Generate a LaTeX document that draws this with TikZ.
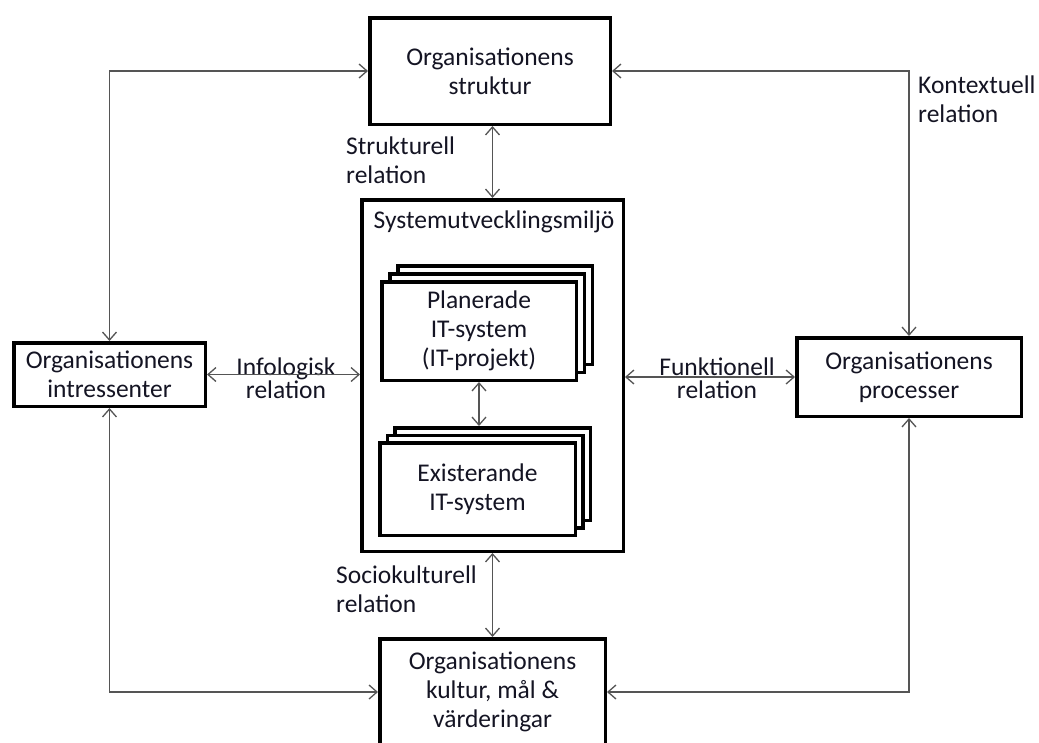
\documentclass[tikz,border=0pt]{standalone}
\usepackage{fontspec}
\setmainfont{Carlito}
\usetikzlibrary{arrows.meta}
\definecolor{txt}{RGB}{20,20,35}
\definecolor{linegray}{RGB}{85,85,85}

\begin{document}
\begin{tikzpicture}[x=1pt,y=-1pt,
  box/.style={draw=black, line width=3.5pt, fill=white, align=center, inner sep=0pt,
    font=\fontsize{25.5}{29}\selectfont, text=txt},
  stackbox/.style={box},
  lbl/.style={align=left, inner sep=0pt, font=\fontsize{25.5}{29}\selectfont, text=txt},
  tightlbl/.style={align=center, inner sep=0pt, font=\fontsize{25.5}{23}\selectfont, text=txt},
  conn/.style={draw=linegray, line width=1.3pt,
    {Straight Barb[length=8pt,width=14pt]}-{Straight Barb[length=8pt,width=14pt]}}
]
\useasboundingbox (0,0) rectangle (1039,742);
\clip (0,0) rectangle (1039,742);

% outer organisation boxes
\node[box, minimum width=240.5pt, minimum height=106.5pt] (top) at (490,71)
  {Organisationens\\struktur};
\node[box, minimum width=191.5pt, minimum height=63.5pt] (left) at (109.5,374.5)
  {Organisationens\\intressenter};
\node[box, minimum width=224.5pt, minimum height=78.5pt] (right) at (909,377)
  {Organisationens\\processer};
\node[box, minimum width=225.5pt, minimum height=106.5pt] (bottom) at (492.5,692)
  {Organisationens\\kultur, mål \&\\värderingar};

% development environment container
\node[box, minimum width=261.5pt, minimum height=351.5pt] (env) at (492.5,375.5) {};
\node[lbl, anchor=base] (envtitle) at (494,228) {Systemutvecklingsmiljö};

% stacked IT-system boxes
\node[stackbox, minimum width=194.5pt, minimum height=98.5pt] (planC) at (495,315) {};
\node[stackbox, minimum width=194.5pt, minimum height=98.5pt] (planB) at (487,323) {};
\node[stackbox, minimum width=194.5pt, minimum height=98.5pt] (plan) at (479,331)
  {Planerade\\IT-system\\(IT-projekt)};
\node[stackbox, minimum width=195.5pt, minimum height=92.5pt] (exC) at (492.5,474) {};
\node[stackbox, minimum width=195.5pt, minimum height=92.5pt] (exB) at (485,481.5) {};
\node[stackbox, minimum width=195.5pt, minimum height=92.5pt] (ex) at (477.5,489)
  {Existerande\\IT-system};

% relation labels
\node[lbl, anchor=west] (lstruk) at (346,160) {Strukturell\\relation};
\node[lbl, anchor=west] (lkont) at (918,99) {Kontextuell\\relation};
\node[lbl, anchor=west] (lsocio) at (336,589) {Sociokulturell\\relation};
\node[tightlbl] (linfo) at (286,378) {Infologisk\\relation};
\node[tightlbl] (lfunk) at (717,378) {Funktionell\\relation};

% connectors
\draw[conn] (left.north) |- (top.west);
\draw[conn] (right.north) |- (top.east);
\draw[conn] (left.south) |- (bottom.west);
\draw[conn] (right.south) |- (bottom.east);
\draw[conn] (env.north) -- (env.north |- top.south);
\draw[conn] (env.south) -- (env.south |- bottom.north);
\draw[conn] (left.east) -- (left.east -| env.west);
\draw[conn] (env.east |- right.west) -- (right.west);
\draw[conn] (plan.south) -- (plan.south |- exC.north);
\end{tikzpicture}
\end{document}
